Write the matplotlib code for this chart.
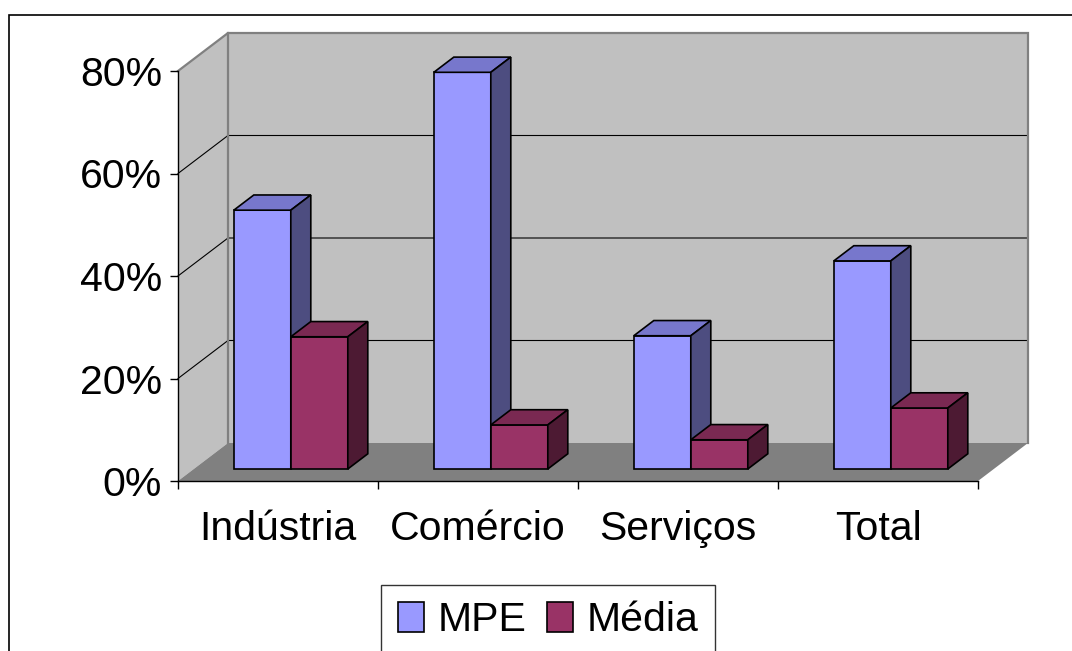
import numpy as np
import matplotlib.pyplot as plt
from matplotlib.patches import Polygon, Patch, Rectangle

plt.rcParams['font.family'] = ['Liberation Sans', 'DejaVu Sans']

categories = ['Indústria', 'Comércio', 'Serviços', 'Total']
mpe = [50.5, 77.4, 26.0, 40.6]
media = [25.8, 8.6, 5.7, 11.9]
series_names = ['MPE', 'Média']
y_ticks = [0, 20, 40, 60, 80]

front_colors = ['#9999FF', '#993366']
top_colors = ['#7777CC', '#7A2952']
side_colors = ['#4D4D80', '#4D1A33']

fig = plt.figure(figsize=(10.72, 6.51), dpi=100)
ax = fig.add_axes([178 / 1072, 1 - 481 / 651, 800 / 1072, 410 / 651])
ax.set_xlim(0, len(categories))
ax.set_ylim(0, y_ticks[-1])

# depth of the 3d box (data units)
dx = 0.25
dy = y_ticks[-1] * 38 / 410
n = len(categories)
ymax = y_ticks[-1]
fs = 29.5


def pt(x, y, d):
    return (x + d * dx, y + d * dy)


def poly(pts, fc, ec='none', lw=0, z=1):
    ax.add_patch(Polygon(pts, closed=True, facecolor=fc, edgecolor=ec,
                         linewidth=lw, zorder=z, clip_on=False, joinstyle='miter'))


# walls and floor
wall = '#C0C0C0'
edge = '#808080'
poly([pt(0, 0, 0), pt(0, 0, 1), pt(0, ymax, 1), pt(0, ymax, 0)], wall, z=0.5)
poly([pt(0, 0, 1), pt(n, 0, 1), pt(n, ymax, 1), pt(0, ymax, 1)], wall, z=0.5)
poly([pt(0, 0, 0), pt(n, 0, 0), pt(n, 0, 1), pt(0, 0, 1)], edge, z=0.6)
for seg in ([pt(0, ymax, 0), pt(0, ymax, 1), pt(n, ymax, 1), pt(n, 0, 1)],
            [pt(0, 0, 1), pt(0, ymax, 1)]):
    xs, ys = zip(*seg)
    ax.plot(xs, ys, color=edge, lw=1.6, zorder=0.8, clip_on=False,
            solid_joinstyle='miter')

# gridlines on side and back walls
for v in y_ticks[1:-1]:
    xs, ys = zip(pt(0, v, 0), pt(0, v, 1), pt(n, v, 1))
    ax.plot(xs, ys, color='black', lw=0.8, zorder=0.7, clip_on=False)

# 3d columns
w = 0.285
d0, d1 = 0.316, 0.716
for i in range(n):
    start = i + 0.2
    for j, vals in enumerate([mpe, media]):
        x0 = start + j * w
        x1 = x0 + w
        h = vals[i]
        z = 2 + i * 2 + j
        poly([pt(x0, 0, d0), pt(x1, 0, d0), pt(x1, h, d0), pt(x0, h, d0)],
             front_colors[j], 'black', 1.2, z)
        poly([pt(x0, h, d0), pt(x1, h, d0), pt(x1, h, d1), pt(x0, h, d1)],
             top_colors[j], 'black', 1.2, z)
        poly([pt(x1, 0, d0), pt(x1, 0, d1), pt(x1, h, d1), pt(x1, h, d0)],
             side_colors[j], 'black', 1.2, z)

# axes
for s in ['top', 'right']:
    ax.spines[s].set_visible(False)
ax.patch.set_visible(False)
for s in ['left', 'bottom']:
    ax.spines[s].set_linewidth(1.0)
    ax.spines[s].set_zorder(10)
ax.set_yticks(y_ticks)
ax.set_yticklabels([f'{v}%' for v in y_ticks], fontsize=fs)
ax.tick_params(axis='y', length=5.8, width=1, pad=5.8)
ax.set_xticks(np.arange(n + 1))
ax.set_xticklabels([''] * (n + 1))
ax.tick_params(axis='x', which='major', length=5.8, width=1)
ax.set_xticks(np.arange(n) + 0.5, minor=True)
ax.set_xticklabels(categories, minor=True, fontsize=fs)
ax.tick_params(axis='x', which='minor', length=0, pad=42.5)
for lbl in ax.get_xticklabels(minor=True):
    lbl.set_va('baseline')

# legend
handles = [Patch(facecolor=front_colors[k], edgecolor='black', linewidth=1.2,
                 label=series_names[k]) for k in range(2)]
leg = fig.legend(handles=handles, loc='upper center',
                 bbox_to_anchor=(548 / 1072, 1 - 585 / 651), ncol=2,
                 fontsize=fs, frameon=True, fancybox=False, shadow=False,
                 handlelength=0.65, handleheight=0.72, handletextpad=0.32,
                 columnspacing=0.5, borderpad=0.4, borderaxespad=0)
leg.get_frame().set_edgecolor('black')
leg.get_frame().set_linewidth(1.0)

# chart area border (right and bottom are cut off in the picture)
fig.add_artist(Rectangle((9 / 1072, -0.2), 1.2, 1.2 - 15 / 651, transform=fig.transFigure,
                         fill=False, edgecolor='black', linewidth=1.2))

fig.savefig('out.png', dpi=100)
